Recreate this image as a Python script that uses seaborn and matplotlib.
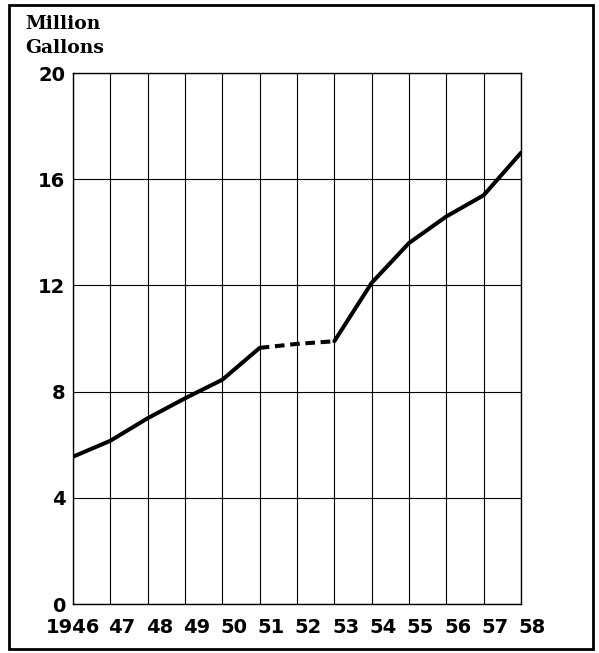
import numpy as np
import pandas as pd
import seaborn as sns
import matplotlib.pyplot as plt
from matplotlib.patches import Rectangle
from matplotlib.transforms import ScaledTranslation

years = [1946, 1947, 1948, 1949, 1950, 1951, 1952, 1953, 1954, 1955, 1956, 1957, 1958]
gallons = [5.55, 6.15, 7.0, 7.75, 8.45, 9.65, 9.8, 9.9, 12.1, 13.6, 14.6, 15.4, 17.0]
year_labels = ["1946", "47", "48", "49", "50", "51", "52", "53", "54", "55", "56", "57", "58"]
y_ticks = [0, 4, 8, 12, 16, 20]

df = pd.DataFrame({"year": years, "gallons": gallons})
part1 = df[df["year"] <= 1951]
gap = df[(df["year"] >= 1951) & (df["year"] <= 1953)]
part2 = df[df["year"] >= 1953]

sns.set_style("white")
fig = plt.figure(figsize=(5.99, 6.53), dpi=100)
ax = fig.add_axes([0.1219, 0.075, 0.7479, 0.813])

sns.lineplot(data=part1, x="year", y="gallons", color="black", linewidth=2.9, ax=ax)
sns.lineplot(data=gap, x="year", y="gallons", color="black", linewidth=2.9,
             linestyle=(0, (2.4, 1.4)), ax=ax)
sns.lineplot(data=part2, x="year", y="gallons", color="black", linewidth=2.9, ax=ax)

ax.set_xlim(1946, 1958)
ax.set_ylim(0, 20)
ax.set_xticks(years)
ax.set_xticklabels(year_labels)
ax.set_yticks(y_ticks)
ax.grid(True, color="black", linewidth=0.8)
for s in ax.spines.values():
    s.set_color("black")
    s.set_linewidth(1.0)
ax.tick_params(axis="both", length=0, labelsize=14, colors="black")
ax.tick_params(axis="x", pad=10)
ax.tick_params(axis="y", pad=5.5)
for lab in ax.get_xticklabels() + ax.get_yticklabels():
    lab.set_fontweight("bold")
# year labels after the first sit just to the right of their grid line
for lab in ax.get_xticklabels()[1:]:
    lab.set_horizontalalignment("left")
    lab.set_transform(lab.get_transform() + ScaledTranslation(-1.5 / 72, 0, fig.dpi_scale_trans))
ax.set_xlabel("")
ax.set_ylabel("")

fig.text(0.042, 0.963, "Million", fontsize=13.5, family="DejaVu Serif",
         fontweight="bold", va="center", ha="left", color="black")
fig.text(0.042, 0.926, "Gallons", fontsize=13.5, family="DejaVu Serif",
         fontweight="bold", va="center", ha="left", color="black")

fig.patches.append(Rectangle((0.015, 0.006), 0.975, 0.986, transform=fig.transFigure,
                             fill=False, edgecolor="black", linewidth=2))

fig.savefig("out.png", dpi=100)
